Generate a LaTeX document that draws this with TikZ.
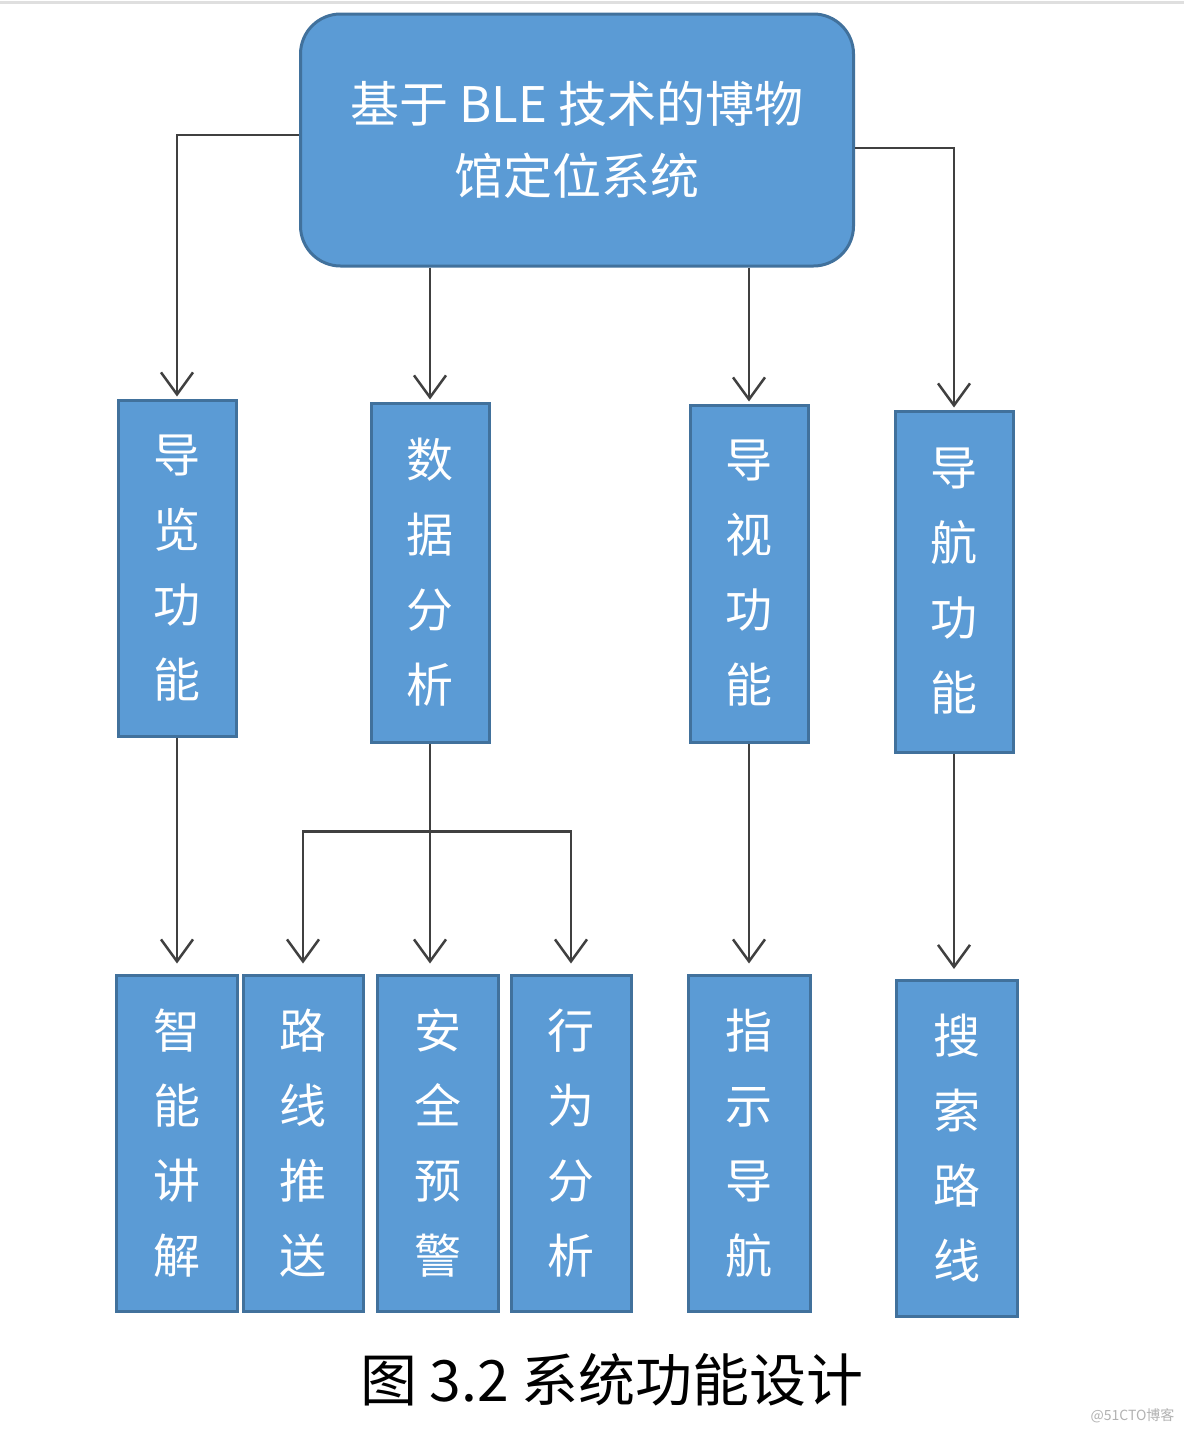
\documentclass[tikz,border=0pt]{standalone}
\usepackage{fontspec}
\setmainfont{Noto Sans CJK SC}
\usetikzlibrary{arrows.meta}
\definecolor{boxblue}{HTML}{5B9BD5}
\definecolor{boxedge}{HTML}{41719C}
\definecolor{linegray}{HTML}{404040}
\tikzset{
  topbox/.style={draw=boxedge, line width=3pt, fill=boxblue, rounded corners=40pt,
    text=white, minimum width=553pt, minimum height=252pt, align=center,
    font=\fontsize{49}{72}\selectfont},
  colbox/.style={draw=boxedge, line width=3pt, fill=boxblue, text=white,
    minimum width=118pt, minimum height=336pt, inner sep=0pt, align=center,
    font=\fontsize{47}{75}\selectfont},
  link/.style={draw=linegray, line width=2.5pt},
  arr/.style={link, -{Straight Barb[length=22pt, width=32pt, line width=2.5pt]}, shorten >=10pt},
  arrtop/.style={arr, shorten >=2pt}
}
\begin{document}
\begin{tikzpicture}[x=1pt, y=-1pt]
    \useasboundingbox [fill=white] (0,0) rectangle (1184,1432);
    \draw [gray!25, line width=3pt] (0,2) -- (1184,2);

    \node [topbox] (sys) at (577,140) {基于 BLE 技术的博物\\馆定位系统};

    \node [colbox] (guide) at (177,568) {导\\览\\功\\能};
    \node [colbox, minimum height=339pt] (data) at (430,572.5) {数\\据\\分\\析};
    \node [colbox, minimum height=337pt] (view) at (749,573.5) {导\\视\\功\\能};
    \node [colbox, minimum height=341pt] (nav) at (954,581.5) {导\\航\\功\\能};

    \node [colbox, minimum width=121pt] (explain) at (176.5,1143) {智\\能\\讲\\解};
    \node [colbox, minimum width=120pt] (route) at (303,1143) {路\\线\\推\\送};
    \node [colbox, minimum width=121pt] (safety) at (437.5,1143) {安\\全\\预\\警};
    \node [colbox, minimum width=120pt] (behavior) at (571,1143) {行\\为\\分\\析};
    \node [colbox, minimum width=122pt] (indicate) at (749,1143) {指\\示\\导\\航};
    \node [colbox, minimum width=121pt] (search) at (956.5,1148.5) {搜\\索\\路\\线};

    \draw [arrtop] ([yshift=5pt]sys.west) -| (guide.north);
    \draw [arrtop] (sys.south -| data.north) -- (data.north);
    \draw [arrtop] (sys.south -| view.north) -- (view.north);
    \draw [arrtop] ([yshift=-8pt]sys.east) -| (nav.north);

    \draw [arr] (guide.south) -- (guide.south |- explain.north);
    \path (data.south) ++(0,88) coordinate (split);
    \draw [link] (data.south) -- (split);
    \draw [arr] (split) -| (route.north);
    \draw [arr] (split) -- (split |- safety.north);
    \draw [arr] (split) -| (behavior.north);
    \draw [arr] (view.south) -- (view.south |- indicate.north);
    \draw [arr] (nav.south) -- (nav.south |- search.north);

    \node [font=\fontsize{57}{57}\selectfont] (caption) at (612,1380) {图 3.2 系统功能设计};
    \node [anchor=east, text=gray!60, font=\fontsize{14}{14}\selectfont] (mark) at (1178,1416) {@51CTO博客};
\end{tikzpicture}
\end{document}
